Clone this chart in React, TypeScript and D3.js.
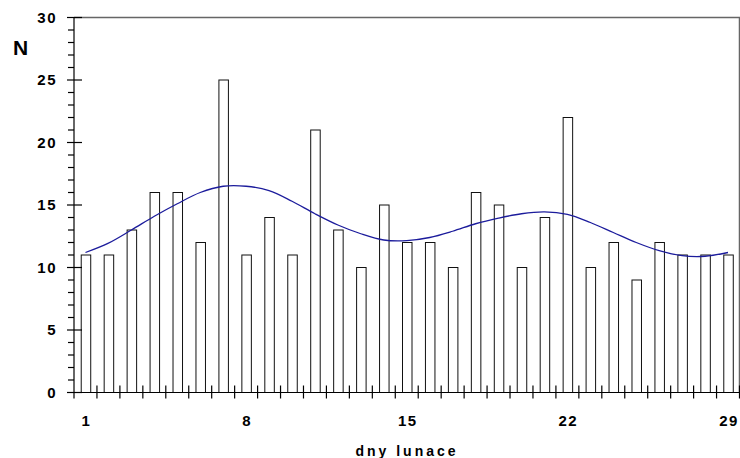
import { useRef, useEffect } from 'react';
import * as d3 from 'd3';

// dny lunace 1..29, pocet N
const days = d3.range(1, 30);
const counts = [11, 11, 13, 16, 16, 12, 25, 11, 14, 11, 21, 13, 10, 15, 12, 12, 10, 16, 15, 10, 14, 22, 10, 12, 9, 12, 11, 11, 11];
// vyhlazena krivka
const smooth = [11.2, 11.95, 13.0, 14.1, 15.1, 16.0, 16.5, 16.5, 16.15, 15.3, 14.3, 13.4, 12.7, 12.2, 12.15, 12.4, 12.9, 13.5, 13.95, 14.3, 14.45, 14.25, 13.6, 12.8, 12.0, 11.35, 10.95, 10.9, 11.2];
const xLabels = [1, 8, 15, 22, 29];
const yTicks = [0, 5, 10, 15, 20, 25, 30];

const App = () => {
  const svgRef = useRef<SVGSVGElement>(null);

  useEffect(() => {
    if (!svgRef.current) return;
    const width = 740;
    const height = 458;
    const left = 74, right = 739.5, top = 17.5, bottom = 392.5;
    const font = 'Liberation Sans, Arial, sans-serif';

    const svg = d3.select(svgRef.current)
      .attr('width', width)
      .attr('height', height);
    svg.selectAll('*').remove();

    const x = d3.scaleLinear().domain([0.5, 29.5]).range([left, right]);
    const y = d3.scaleLinear().domain([0, 30]).range([bottom, top]);
    const barW = 9.5;

    // ramecek nahore a vpravo
    svg.append('path')
      .attr('d', `M${left},${top}H${right}V${bottom}`)
      .attr('fill', 'none')
      .attr('stroke', '#666')
      .attr('stroke-width', 1.5);

    svg.selectAll('.bar')
      .data(days)
      .join('rect')
      .attr('x', (d) => x(d) - barW / 2 + 0.5)
      .attr('y', (d, i) => y(counts[i]))
      .attr('width', barW)
      .attr('height', (d, i) => bottom - y(counts[i]))
      .attr('fill', '#fff')
      .attr('stroke', '#111')
      .attr('stroke-width', 1);

    const line = d3.line<number>()
      .x((d) => x(d))
      .y((d, i) => y(smooth[i]))
      .curve(d3.curveCatmullRom);

    svg.append('path')
      .datum(days)
      .attr('fill', 'none')
      .attr('stroke', '#1c1c9c')
      .attr('stroke-width', 1.3)
      .attr('d', line);

    // osa y
    const g = svg.append('g').attr('stroke', '#000').attr('stroke-width', 1.2);
    g.append('line').attr('x1', left).attr('x2', left).attr('y1', top).attr('y2', bottom);
    g.selectAll('.minor')
      .data(d3.range(0, 31))
      .join('line')
      .attr('x1', (d) => (d % 5 === 0 ? left - 7 : left - 6))
      .attr('x2', (d) => (d % 5 === 0 ? left + 8 : left))
      .attr('y1', (d) => y(d))
      .attr('y2', (d) => y(d));

    // osa x
    g.append('line').attr('x1', left).attr('x2', right).attr('y1', bottom).attr('y2', bottom);
    g.selectAll('.xt')
      .data(d3.range(0.5, 30, 1))
      .join('line')
      .attr('x1', (d) => x(d))
      .attr('x2', (d) => x(d))
      .attr('y1', (d) => (d === 0.5 ? bottom : bottom - 7))
      .attr('y2', bottom + 6);

    svg.selectAll('.yl')
      .data(yTicks)
      .join('text')
      .attr('x', 57)
      .attr('y', (d) => y(d))
      .attr('dy', '0.36em')
      .attr('text-anchor', 'end')
      .attr('font-family', font)
      .attr('font-weight', 'bold')
      .attr('font-size', 15)
      .attr('letter-spacing', 1.5)
      .text((d) => d);

    svg.selectAll('.xl')
      .data(xLabels)
      .join('text')
      .attr('x', (d) => x(d) + 1)
      .attr('y', 426)
      .attr('text-anchor', 'middle')
      .attr('font-family', font)
      .attr('font-weight', 'bold')
      .attr('font-size', 15)
      .attr('letter-spacing', 1.5)
      .text((d) => d);

    svg.append('text')
      .attr('x', 407)
      .attr('y', 456)
      .attr('text-anchor', 'middle')
      .attr('font-family', font)
      .attr('font-weight', 'bold')
      .attr('font-size', 14)
      .attr('letter-spacing', 3)
      .text('dny lunace');

    svg.append('text')
      .attr('x', 20.5)
      .attr('y', 55)
      .attr('text-anchor', 'middle')
      .attr('font-family', font)
      .attr('font-weight', 'bold')
      .attr('font-size', 21)
      .text('N');
  }, []);

  return <svg ref={svgRef} style={{ position: 'absolute', left: 0, top: 0 }} />;
};

export default App;
